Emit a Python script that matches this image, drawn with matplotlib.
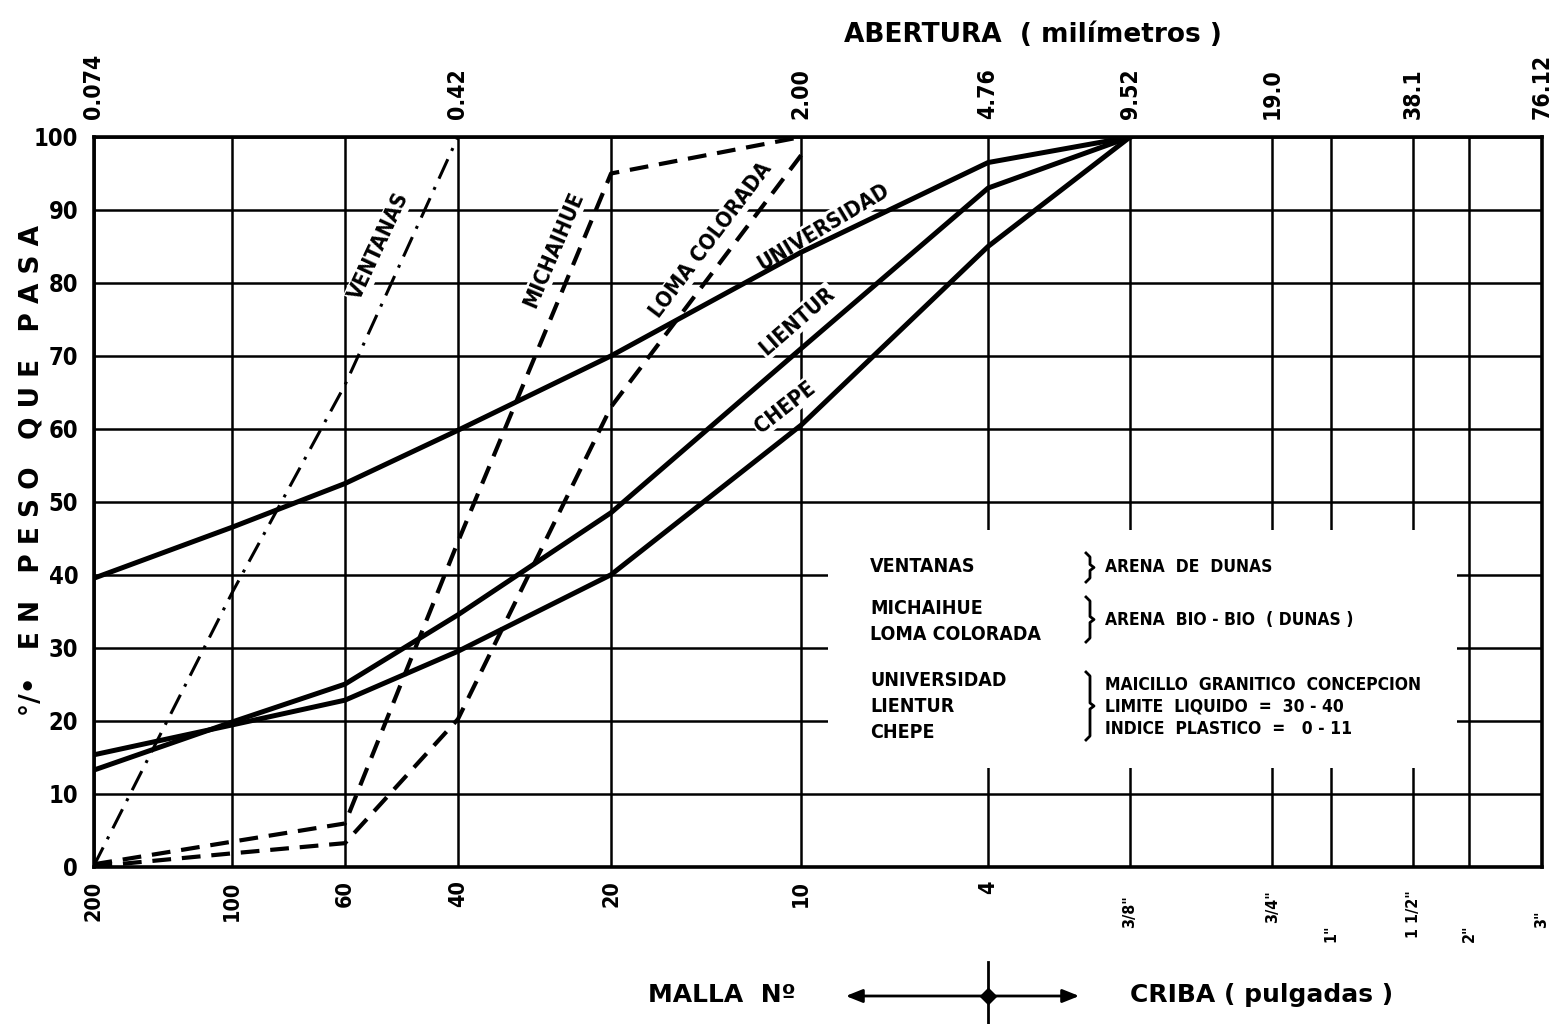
import numpy as np
import matplotlib
matplotlib.use("Agg")
import matplotlib.pyplot as plt
from matplotlib.patches import Rectangle, FancyArrowPatch
from matplotlib.lines import Line2D
import matplotlib.transforms as mtransforms
from matplotlib.font_manager import FontProperties

# ---------------- data ----------------
# sieve openings (mm) for the bottom scale
SIEVE_MM = [0.074, 0.149, 0.25, 0.42, 0.84, 2.0, 4.76, 9.52, 19.0, 25.4, 38.1, 50.8, 76.12]
MALLA_LABELS = ["200", "100", "60", "40", "20", "10", "4"]
CRIBA_MM = [9.52, 19.0, 25.4, 38.1, 50.8, 76.12]
CRIBA_LABELS = ['3/8"', '3/4"', '1"', '1 1/2"', '2"', '3"']
TOP_MM = [0.074, 0.42, 2.0, 4.76, 9.52, 19.0, 38.1, 76.12]
TOP_LABELS = ["0.074", "0.42", "2.00", "4.76", "9.52", "19.0", "38.1", "76.12"]
Y_TICKS = [0, 10, 20, 30, 40, 50, 60, 70, 80, 90, 100]

# relative position of each sieve line along the (hand drawn) axis
AXIS_FRAC = [0.0, 0.0956, 0.1736, 0.2516, 0.3573, 0.4885, 0.6176,
             0.7156, 0.8137, 0.8544, 0.9110, 0.9497, 1.0]

# grading curves (% passing)
ventanas_x = [0.074, 0.149, 0.25, 0.42]
ventanas_y = [0, 37.5, 66, 100]

michaihue_x = [0.074, 0.149, 0.25, 0.42, 0.84, 2.0]
michaihue_y = [0.3, 3.4, 5.9, 44.5, 95, 100]

loma_x = [0.074, 0.149, 0.25, 0.42, 0.84, 2.0]
loma_y = [0, 1.8, 3.2, 20.2, 63, 97.5]

universidad_x = [0.074, 0.149, 0.25, 0.42, 0.84, 2.0, 4.76, 9.52]
universidad_y = [39.5, 46.5, 52.5, 59.8, 70, 84.2, 96.5, 100]

lientur_x = [0.074, 0.149, 0.25, 0.42, 0.84, 2.0, 4.76, 9.52]
lientur_y = [13.2, 19.8, 25, 34.5, 48.5, 71, 93, 100]

chepe_x = [0.074, 0.149, 0.25, 0.42, 0.84, 2.0, 4.76, 9.52]
chepe_y = [15.3, 19.4, 22.8, 29.5, 40, 60.5, 85, 100]

# ---------------- scale ----------------
_LOGS = np.log10(SIEVE_MM)


def fwd(x):
    x = np.clip(np.asarray(x, dtype=float), 1e-6, None)
    return np.interp(np.log10(x), _LOGS, AXIS_FRAC)


def inv(u):
    return 10 ** np.interp(np.asarray(u, dtype=float), AXIS_FRAC, _LOGS)


FAM = ["DejaVu Sans"]
COND = dict(family=FAM, fontweight="bold", fontstretch="condensed")


def cond_fp(size):
    return FontProperties(family=FAM, weight="bold", stretch="condensed", size=size)


W, H = 1568, 1024
fig = plt.figure(figsize=(W / 100, H / 100), dpi=100)
ax = fig.add_axes([93.5 / W, (H - 866.5) / H, 1448.5 / W, 729.5 / H])

ax.set_xscale("function", functions=(fwd, inv))
ax.set_xlim(SIEVE_MM[0], SIEVE_MM[-1])
ax.set_ylim(0, 100)

# grid
ax.set_axisbelow(True)
ax.set_xticks(SIEVE_MM, labels=MALLA_LABELS + [""] * (len(SIEVE_MM) - len(MALLA_LABELS)))
ax.xaxis.set_minor_locator(matplotlib.ticker.NullLocator())
ax.set_yticks(Y_TICKS, labels=[str(v) for v in Y_TICKS])
ax.grid(True, color="black", lw=1.8)
for s in ax.spines.values():
    s.set_linewidth(2.6)
ax.tick_params(axis="both", length=0)
ax.tick_params(axis="y", pad=11)
ax.tick_params(axis="x", pad=10)
for lab in ax.get_yticklabels():
    lab.set_fontproperties(cond_fp(17))
for lab in ax.get_xticklabels():
    lab.set_rotation(90)
    lab.set_fontproperties(cond_fp(15.5))

# inch sieve labels (smaller, hanging lower)
btrans = mtransforms.blended_transform_factory(ax.transData, fig.transFigure)
criba_top = [895, 890, 925, 890, 925, 910]
for mm, lab, top in zip(CRIBA_MM, CRIBA_LABELS, criba_top):
    fig.text(0, 0, lab, transform=btrans, rotation=90, ha="center", va="top",
             fontsize=11.5, **COND).set_position((mm, 1 - top / H))

# top axis
ax2 = ax.twiny()
ax2.set_xscale("function", functions=(fwd, inv))
ax2.set_xlim(SIEVE_MM[0], SIEVE_MM[-1])
ax2.set_xticks(TOP_MM, labels=TOP_LABELS)
ax2.xaxis.set_minor_locator(matplotlib.ticker.NullLocator())
ax2.tick_params(axis="x", length=0, pad=13)
for lab in ax2.get_xticklabels():
    lab.set_rotation(90)
    lab.set_fontproperties(cond_fp(16.5))
for s in ax2.spines.values():
    s.set_visible(False)


def afx(px):
    return (px - 93.5) / 1448.5


def afy(py):
    return (866.5 - py) / 729.5


# white legend panel that interrupts the grid
ax.add_patch(Rectangle((afx(828), afy(768)), afx(1457) - afx(828), afy(530) - afy(768),
                       transform=ax.transAxes, facecolor="white", edgecolor="none", zorder=1))

# curves
ax.plot(ventanas_x, ventanas_y, color="black", lw=2.2, dashes=(7, 3, 1, 3), zorder=3)
ax.plot(michaihue_x, michaihue_y, color="black", lw=3.0, dashes=(4.5, 2.6), zorder=3)
ax.plot(loma_x, loma_y, color="black", lw=3.0, dashes=(4.5, 2.6), zorder=3)
ax.plot(universidad_x, universidad_y, color="black", lw=3.6, zorder=3)
ax.plot(lientur_x, lientur_y, color="black", lw=3.6, zorder=3)
ax.plot(chepe_x, chepe_y, color="black", lw=3.6, zorder=3)

lbl_box = dict(boxstyle="square,pad=0.08", fc="white", ec="none")
curve_labels = [("VENTANAS", 379, 246, 65), ("MICHAIHUE", 554, 250, 67),
                ("LOMA COLORADA", 711, 240, 53), ("UNIVERSIDAD", 823, 227, 31),
                ("LIENTUR", 797, 321, 41), ("CHEPE", 785, 407, 38)]
for txt, px, py, rot in curve_labels:
    ax.text(afx(px), afy(py), txt, transform=ax.transAxes, rotation=rot,
            rotation_mode="anchor", ha="center", va="center", fontsize=15.5,
            bbox=lbl_box, zorder=2.5, **COND)

# legend content
names = [("VENTANAS", 567), ("MICHAIHUE", 608), ("LOMA COLORADA", 634),
         ("UNIVERSIDAD", 680), ("LIENTUR", 706), ("CHEPE", 733)]
for txt, py in names:
    ax.text(afx(870), afy(py), txt, transform=ax.transAxes, ha="left", va="center",
            fontsize=14, zorder=5, **COND)

descs = [("ARENA  DE  DUNAS", 567), ("ARENA  BIO - BIO  ( DUNAS )", 620),
         ("MAICILLO  GRANITICO  CONCEPCION", 685), ("LIMITE  LIQUIDO  =  30 - 40", 707),
         ("INDICE  PLASTICO  =   0 - 11", 729)]
for txt, py in descs:
    ax.text(afx(1105), afy(py), txt, transform=ax.transAxes, ha="left", va="center",
            fontsize=12.5, zorder=5, **COND)

for top, bot in [(553, 582), (597, 642), (672, 740)]:
    mid = (top + bot) / 2
    bx = 1090
    xs = [bx - 4, bx, bx, bx + 4, bx, bx, bx - 4]
    ys = [top, top + 4, mid - 3, mid, mid + 3, bot - 4, bot]
    ax.add_line(Line2D([afx(v) for v in xs], [afy(v) for v in ys], transform=ax.transAxes,
                       color="black", lw=2.0, zorder=5))

# titles / axis labels
fig.text(1033 / W, 1 - 35 / H, "ABERTURA  ( milímetros )", ha="center", va="center",
         fontsize=19, fontweight="bold", family=FAM)
fig.text(32 / W, 1 - 471 / H, "°/•   E N   P E S O   Q U E   P A S A", rotation=90,
         ha="center", va="center", fontsize=19, fontweight="bold", family=FAM)
fig.text(722 / W, 1 - 995 / H, "MALLA  Nº", ha="center", va="center",
         fontsize=18, fontweight="bold", family=FAM)
fig.text(1262 / W, 1 - 995 / H, "CRIBA ( pulgadas )", ha="center", va="center",
         fontsize=18, fontweight="bold", family=FAM)

# double arrow with cross marker under the #4 sieve
fig.add_artist(FancyArrowPatch(
    (843 / W, 1 - 996 / H), (1082 / W, 1 - 996 / H), transform=fig.transFigure,
    arrowstyle="<|-|>,head_length=10,head_width=4", color="black", lw=2.0,
    mutation_scale=1))
fig.add_artist(Line2D([988 / W, 988 / W], [1 - 962 / H, 0], transform=fig.transFigure,
                      color="black", lw=2.0))
fig.add_artist(Line2D([988 / W], [1 - 996 / H], transform=fig.transFigure, marker="D",
                      markersize=8, color="black"))

fig.savefig("out.png", dpi=100, facecolor="white")
